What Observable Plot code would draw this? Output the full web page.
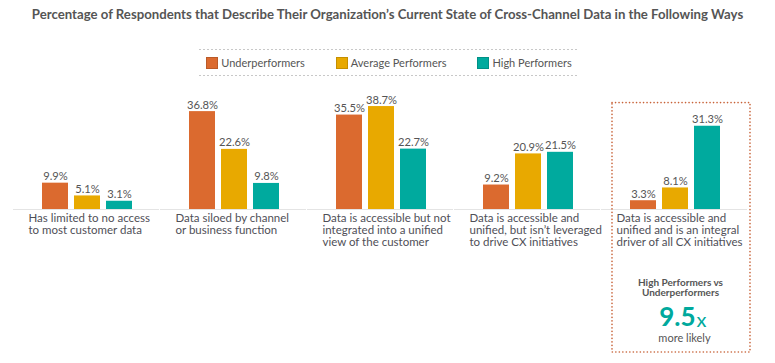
<!DOCTYPE html>
<html>
<head>
<meta charset="utf-8">
<script src="https://cdn.jsdelivr.net/npm/d3@7"></script>
<script src="https://cdn.jsdelivr.net/npm/@observablehq/plot@0.6"></script>
<style>
  html, body { margin: 0; padding: 0; background: #fff; }
  #wrap { position: relative; width: 775px; height: 363px; overflow: hidden; font-family: Lato, "Open Sans", sans-serif; }
  #wrap svg { position: absolute; left: 0; top: 0; }
  #title { position: absolute; left: 0; top: 6px; width: 775px; text-align: center; font-weight: 700; font-size: 13.2px; color: #555; }
  #legend { position: absolute; left: 199px; top: 49px; width: 380px; height: 27px; display: flex; align-items: center; justify-content: center; gap: 31px; font-size: 11px; color: #555;
    background-image: linear-gradient(to right, #c8c8c8 40%, transparent 40%), linear-gradient(to right, #c8c8c8 40%, transparent 40%);
    background-size: 4px 1px, 4px 1px; background-repeat: repeat-x; background-position: top left, bottom left; }
  .item { display: flex; align-items: center; gap: 3px; }
  .sw { width: 10px; height: 10px; border: 0.5px solid rgba(0,0,0,0.15); }
</style>
</head>
<body>
<div id="wrap">
  <div id="title"></div>
  <div id="legend"></div>
</div>
<script>
const titleText = "Percentage of Respondents that Describe Their Organization’s Current State of Cross-Channel Data in the Following Ways";
const categories = [
  "Has limited to no access\nto most customer data",
  "Data siloed by channel\nor business function",
  "Data is accessible but not\nintegrated into a unified\nview of the customer",
  "Data is accessible and\nunified, but isn’t leveraged\nto drive CX initiatives",
  "Data is accessible and\nunified and is an integral\ndriver of all CX initiatives"
];
const series = ["Underperformers", "Average Performers", "High Performers"];
const seriesColors = ["#db6a2f", "#e8a900", "#00aa9e"];
const underperformers = [9.9, 36.8, 35.5, 9.2, 3.3];
const averagePerformers = [5.1, 22.6, 38.7, 20.9, 8.1];
const highPerformers = [3.1, 9.8, 22.7, 21.5, 31.3];
const calloutHeading = "High Performers vs\nUnderperformers";
const calloutValue = "9.5";
const calloutUnit = "x";
const calloutNote = "more likely";

const valuesBySeries = [underperformers, averagePerformers, highPerformers];
const rows = categories.flatMap((c, i) => series.map((s, j) => ({category: c, series: s, value: valuesBySeries[j][i]})));
const highlighted = [categories[categories.length - 1]];

document.getElementById("title").textContent = titleText;
const legend = document.getElementById("legend");
series.forEach((s, j) => {
  const it = document.createElement("div"); it.className = "item";
  const sw = document.createElement("div"); sw.className = "sw"; sw.style.background = seriesColors[j];
  const lb = document.createElement("span"); lb.textContent = s;
  it.appendChild(sw); it.appendChild(lb); legend.appendChild(it);
});

const chart = Plot.plot({
  width: 775,
  height: 363,
  marginTop: 102.6,
  marginBottom: 154,
  marginLeft: 29,
  marginRight: 38,
  style: {fontFamily: "Lato, 'Open Sans', sans-serif", background: "transparent", overflow: "visible"},
  fx: {domain: categories, paddingInner: 27 / 147, paddingOuter: 0, axis: null, label: null},
  x: {domain: series, paddingInner: 0.2, paddingOuter: 0.446, align: 0.414, axis: null, label: null},
  y: {domain: [0, 40], axis: null},
  color: {domain: series, range: seriesColors},
  marks: [
    Plot.ruleY([0], {stroke: "#e4e4e4", strokeWidth: 1, insetLeft: -16, insetRight: -10}),
    Plot.rect(highlighted, {fx: d => d, stroke: "#c8643a", strokeWidth: 1.6, strokeDasharray: "0.1,3.4", strokeLinecap: "round", fill: "none", insetLeft: -5, insetRight: -13, insetTop: 0, insetBottom: -143}),
    Plot.barY(rows, {fx: "category", x: "series", y: "value", fill: "series"}),
    Plot.text(rows, {fx: "category", x: "series", y: "value", text: d => d.value.toFixed(1) + "%", lineAnchor: "bottom", dy: -3, fill: "#555", fontSize: 11.2}),
    Plot.text(categories, {fx: d => d, text: d => d, frameAnchor: "bottom-left", textAnchor: "start", lineAnchor: "top", dy: 4, dx: -1, lineHeight: 1.05, fontSize: 11.5, fill: "#4f4f57"}),
    Plot.text(highlighted, {fx: d => d, text: () => calloutHeading, frameAnchor: "bottom", lineAnchor: "middle", dx: 3, dy: 78, fontSize: 10, fontWeight: 700, lineHeight: 1.05, fill: "#555"}),
    Plot.text(highlighted, {fx: d => d, text: () => calloutValue, frameAnchor: "bottom", textAnchor: "end", lineAnchor: "middle", dx: 18, dy: 108.5, fontSize: 26, fontWeight: 700, fill: "#00a99d"}),
    Plot.text(highlighted, {fx: d => d, text: () => calloutUnit, frameAnchor: "bottom", textAnchor: "start", lineAnchor: "middle", dx: 19, dy: 111.5, fontSize: 20, fill: "#00a99d"}),
    Plot.text(highlighted, {fx: d => d, text: () => calloutNote, frameAnchor: "bottom", lineAnchor: "middle", dx: 7, dy: 129, fontSize: 11, fill: "#555"})
  ]
});
document.getElementById("wrap").appendChild(chart);
</script>
</body>
</html>
